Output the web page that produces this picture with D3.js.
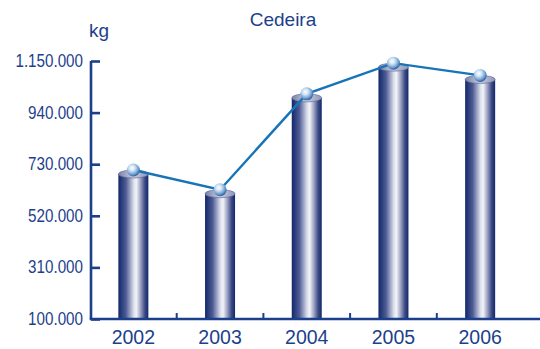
<!DOCTYPE html>
<html><head><meta charset="utf-8">
<script src="https://cdn.jsdelivr.net/npm/d3@7"></script>
<style>body{margin:0;background:#fff}svg{display:block}</style>
</head><body>
<svg id="c" width="540" height="349"></svg>
<script>
const years = ["2002","2003","2004","2005","2006"];
const values = [690000, 610000, 1000000, 1125000, 1075000];
const yTicks = [100000, 310000, 520000, 730000, 940000, 1150000];
const title = "Cedeira";
const unit = "kg";

const svg = d3.select("#c");
const W = 540, H = 349;
const navy = "#1b3f8b", txt = "#1d3f8c", lineCol = "#1874b8";

const x = d3.scaleBand().domain(years).range([90, 523.5]).paddingInner(0.654).paddingOuter(0.327);
const y = d3.scaleLinear().domain([100000, 1150000]).range([319, 61]);

const defs = svg.append("defs");
const g1 = defs.append("linearGradient").attr("id","cyl").attr("x1","0").attr("x2","1").attr("y1","0").attr("y2","0");
[[0,"#11276a"],[0.25,"#4d5b93"],[0.52,"#dfe2ee"],[0.6,"#f2f3f8"],[0.72,"#a9aeca"],[0.88,"#3e4c86"],[1,"#11276a"]]
  .forEach(([o,c])=>g1.append("stop").attr("offset",o).attr("stop-color",c));
const g2 = defs.append("linearGradient").attr("id","top").attr("x1","0").attr("x2","1");
[[0,"#7a82aa"],[0.5,"#c9cce0"],[1,"#8e95b8"]].forEach(([o,c])=>g2.append("stop").attr("offset",o).attr("stop-color",c));
const g3 = defs.append("radialGradient").attr("id","ball").attr("cx","0.4").attr("cy","0.35").attr("r","0.65");
[[0,"#ffffff"],[0.35,"#cfe3f4"],[0.75,"#6f9fcf"],[1,"#2f5f9f"]].forEach(([o,c])=>g3.append("stop").attr("offset",o).attr("stop-color",c));

// Title and unit
svg.append("text").attr("x",283).attr("y",26).attr("text-anchor","middle")
  .attr("font-family","Liberation Sans, Arial, sans-serif").attr("font-size",19).attr("fill",txt).text(title);
svg.append("text").attr("x",89).attr("y",37).attr("font-family","Liberation Sans, Arial, sans-serif")
  .attr("font-size",19).attr("fill",txt).text(unit);

// Bars (cylinders)
const bw = x.bandwidth(), ry = 4;
const bars = svg.append("g");
years.forEach((yr,i)=>{
  const bx = x(yr), ty = y(values[i]);
  bars.append("rect").attr("x",bx).attr("y",ty).attr("width",bw).attr("height",y(100000)-ty).attr("fill","url(#cyl)");
  bars.append("ellipse").attr("cx",bx+bw/2).attr("cy",ty).attr("rx",bw/2).attr("ry",ry)
    .attr("fill","url(#top)").attr("stroke","#5a6596").attr("stroke-width",0.6);
});

// Axes
const fmt = v => d3.format(",")(v).replace(/,/g,".");
const yAxis = svg.append("g").attr("transform","translate(91,0)")
  .call(d3.axisRight(y).tickValues(yTicks).tickSize(9).tickFormat(""));
yAxis.selectAll("path,line").attr("stroke",navy).attr("stroke-width",2.6);
yAxis.select(".domain").attr("d",`M0,${y(1150000)}V${y(100000)}`);
svg.append("g").selectAll("text").data(yTicks).join("text")
  .attr("transform",d=>`translate(83,${y(d)+6}) scale(0.8,1)`)
  .attr("text-anchor","end").attr("font-family","Liberation Sans, Arial, sans-serif")
  .attr("font-size",19).attr("fill",txt).text(fmt);

svg.append("line").attr("x1",89.7).attr("x2",W).attr("y1",319).attr("y2",319).attr("stroke",navy).attr("stroke-width",2.6);
const seps = years.slice(1).map((yr,i)=>(x(years[i])+bw+x(yr))/2);
svg.append("g").selectAll("line").data(seps).join("line")
  .attr("x1",d=>d).attr("x2",d=>d).attr("y1",319).attr("y2",313).attr("stroke",navy).attr("stroke-width",2);
svg.append("g").selectAll("text").data(years).join("text")
  .attr("x",d=>x(d)+bw/2).attr("y",344).attr("text-anchor","middle")
  .attr("font-family","Liberation Sans, Arial, sans-serif").attr("font-size",19.5).attr("fill",txt).text(d=>d);

// Line + balls
const pts = years.map((yr,i)=>[x(yr)+bw/2, y(values[i])-4]);
svg.append("path").attr("d",d3.line()(pts)).attr("fill","none").attr("stroke",lineCol).attr("stroke-width",2.4);
svg.append("g").selectAll("circle").data(pts).join("circle")
  .attr("cx",d=>d[0]).attr("cy",d=>d[1]).attr("r",6.5).attr("fill","url(#ball)");
</script>
</body></html>
